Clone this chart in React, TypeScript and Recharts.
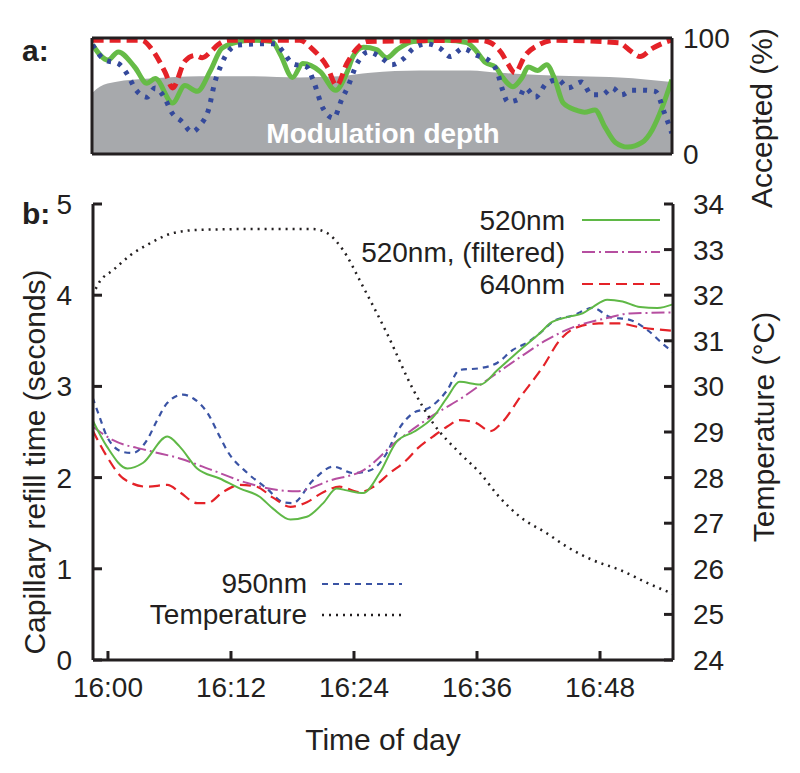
import React from "react";
import { Area, ComposedChart, Line, LineChart, XAxis, YAxis } from "recharts";

// minutes after 16:00
const timeTicks = [0, 12, 24, 36, 48];
const refillTicks = [0, 1, 2, 3, 4, 5];
const tempTicks = [24, 25, 26, 27, 28, 29, 30, 31, 32, 33, 34];
const acceptedTicks = [0, 100];

// panel a: accepted (%)
const acc520Min = [-1.5, 0, 1.0, 2.6, 3.8, 4.6, 6.3, 7.5, 8.7, 10.0, 11.1, 12.4, 14.1, 16.0, 16.8, 18.0, 19.0, 20.7, 22.2, 23.3, 23.9, 24.9, 26.2, 27.2, 28.2, 29.8, 32.9, 35.0, 35.8, 36.8, 37.8, 38.5, 39.5, 40.4, 41.0, 41.9, 42.8, 43.6, 44.4, 45.6, 46.5, 47.5, 48.5, 49.5, 50.7, 52.1, 53.1, 54.1, 55.0];
const acc520 = [94, 81, 88, 75, 61, 65, 44, 59, 54, 72, 91, 96, 98, 97, 86, 66, 78, 71, 55, 70, 84, 92, 90, 83, 90, 97, 98, 96, 90, 79, 75, 66, 58, 66, 75, 72, 77, 64, 44, 38, 36, 38, 23, 10, 6, 10, 21, 41, 64];

const acc640Min = [-1.5, 3.3, 4.3, 5.6, 6.3, 7.5, 8.5, 9.2, 10.0, 10.7, 11.7, 18.7, 20.0, 21.4, 22.3, 23.3, 24.3, 25.3, 36.3, 37.3, 38.4, 39.0, 39.7, 40.7, 42.0, 43.6, 49.8, 51.1, 51.9, 53.1, 54.6, 55.0];
const acc640 = [98, 98, 90, 70, 57, 80, 85, 83, 88, 94, 98, 98, 90, 75, 59, 78, 91, 97, 98, 96, 87, 78, 70, 85, 94, 98, 96, 88, 84, 91, 97, 98];

const acc950Min = [-1.5, -0.3, 1.0, 2.0, 2.6, 3.8, 4.6, 5.6, 6.2, 7.2, 8.2, 9.0, 9.8, 10.4, 11.1, 11.7, 12.7, 15.3, 16.3, 17.1, 18.0, 19.4, 20.0, 21.0, 22.0, 22.8, 23.4, 24.3, 25.4, 26.5, 27.7, 28.8, 29.8, 31.1, 32.4, 33.4, 34.6, 36.0, 37.1, 38.0, 38.5, 39.0, 40.0, 40.7, 41.7, 42.8, 43.9, 44.9, 46.2, 47.2, 48.2, 49.2, 50.1, 51.1, 52.1, 53.4, 54.3, 55.0];
const acc950 = [94, 81, 78, 67, 57, 49, 57, 47, 36, 28, 19, 25, 38, 61, 78, 88, 94, 95, 95, 88, 78, 75, 64, 39, 31, 47, 58, 78, 88, 84, 77, 82, 91, 95, 91, 84, 91, 85, 81, 70, 55, 45, 47, 57, 49, 61, 64, 57, 62, 51, 51, 57, 51, 55, 55, 54, 35, 18];

const modulationMin = [-1.5, -0.8, 0.7, 4.1, 8.9, 13.8, 18.7, 22.6, 25.6, 30.4, 35.3, 38.2, 42.1, 46.0, 49.9, 55.0];
const modulation = [53, 58, 62, 65, 67, 67, 66, 67, 70, 72, 72, 70, 68, 67, 66, 62];

// panel b: capillary refill time (s) and temperature (°C)
const r520Min = [-1.5, -0.1, 1.9, 3.4, 5.8, 7.0, 8.7, 10.9, 12.9, 14.8, 16.1, 17.8, 19.4, 21.0, 22.3, 23.3, 24.9, 26.5, 28.2, 29.8, 31.7, 33.1, 34.3, 36.3, 38.0, 40.2, 42.2, 43.1, 44.8, 46.3, 47.3, 48.7, 50.2, 51.9, 53.6, 55.1];
const r520 = [2.63, 2.34, 2.1, 2.16, 2.45, 2.34, 2.1, 1.99, 1.88, 1.79, 1.66, 1.54, 1.57, 1.72, 1.88, 1.86, 1.83, 2.05, 2.4, 2.5, 2.66, 2.88, 3.05, 3.02, 3.18, 3.4, 3.59, 3.69, 3.76, 3.8, 3.87, 3.95, 3.93, 3.87, 3.86, 3.9];

const rFiltMin = [-1.5, 0.5, 3.8, 7.0, 10.2, 13.6, 16.8, 18.4, 21.7, 24.9, 28.2, 31.4, 34.6, 37.0, 40.2, 42.8, 45.4, 48.7, 50.9, 55.1];
const rFilt = [2.56, 2.41, 2.3, 2.21, 2.08, 1.94, 1.86, 1.85, 1.97, 2.08, 2.4, 2.66, 2.88, 3.07, 3.32, 3.51, 3.65, 3.75, 3.8, 3.81];

const r640Min = [-1.5, -0.1, 1.5, 3.8, 5.8, 7.0, 8.7, 9.7, 11.2, 12.9, 14.5, 16.1, 17.8, 19.4, 21.0, 22.6, 24.6, 25.9, 27.5, 29.1, 30.2, 31.7, 33.1, 34.3, 35.9, 37.3, 38.4, 40.2, 42.4, 44.1, 45.8, 47.9, 49.9, 51.8, 55.1];
const r640 = [2.52, 2.23, 1.99, 1.9, 1.92, 1.84, 1.72, 1.72, 1.84, 1.92, 1.9, 1.78, 1.68, 1.73, 1.84, 1.9, 1.84, 1.9, 2.05, 2.19, 2.32, 2.45, 2.56, 2.63, 2.6, 2.51, 2.6, 2.88, 3.21, 3.51, 3.65, 3.69, 3.69, 3.65, 3.61];

const r950Min = [-1.5, -0.8, -0.1, 1.5, 2.4, 3.8, 4.8, 5.8, 7.3, 8.3, 9.7, 10.9, 11.6, 13.6, 15.5, 17.1, 18.0, 20.0, 22.0, 23.9, 25.6, 27.2, 28.2, 29.8, 31.4, 33.1, 34.3, 36.3, 38.0, 39.5, 40.9, 42.2, 43.4, 45.4, 47.3, 49.0, 50.9, 52.6, 54.5, 55.1];
const r950 = [2.88, 2.66, 2.45, 2.28, 2.27, 2.41, 2.63, 2.82, 2.91, 2.87, 2.71, 2.45, 2.3, 2.05, 1.88, 1.73, 1.72, 1.97, 2.12, 2.05, 2.08, 2.27, 2.5, 2.71, 2.77, 2.96, 3.18, 3.2, 3.26, 3.4, 3.48, 3.59, 3.71, 3.78, 3.86, 3.76, 3.73, 3.62, 3.43, 3.38];

const tempMin = [-1.5, -0.8, 0.5, 2.2, 3.8, 6.3, 8.7, 13.6, 20.0, 21.4, 22.9, 24.9, 27.2, 29.8, 31.7, 34.3, 36.3, 38.0, 40.2, 42.8, 44.8, 47.3, 50.0, 52.6, 55.1];
const temp = [32.0, 32.3, 32.55, 32.88, 33.1, 33.36, 33.43, 33.45, 33.45, 33.36, 33.0, 32.18, 31.17, 29.92, 29.2, 28.54, 28.1, 27.62, 27.14, 26.78, 26.48, 26.19, 25.97, 25.69, 25.45];

const zip = (ts: number[], vs: number[]) => ts.map((t, i) => ({ t, v: vs[i] }));
const fmtTime = (m: number) => `16:${String(m).padStart(2, "0")}`;

const FONT = '"Liberation Sans", Arial, Helvetica, sans-serif';
const INK = "#231f20";
const GREEN = "#5fb846";
const RED = "#e42228";
const BLUE = "#3a53a4";
const PURPLE = "#b64ea0";
const GREY = "#a7a9ac";

const frame = { stroke: INK, strokeWidth: 3 };
const tickText = { fontSize: 28, fill: INK, fontFamily: FONT };
const titleProps = { fill: INK, fontSize: 30, fontFamily: FONT };

const PanelA = () => (
  <ComposedChart width={800} height={215} margin={{ top: 37, right: 0, bottom: 60, left: 0 }}>
    <Area xAxisId="x" yAxisId="pct" data={zip(modulationMin, modulation)} dataKey="v" type="monotone"
      fill={GREY} fillOpacity={1} stroke="none" isAnimationActive={false} />
    <Line xAxisId="x" yAxisId="pct" data={zip(acc520Min, acc520)} dataKey="v" type="monotone"
      stroke="#66bb47" strokeWidth={5} dot={false} activeDot={false} isAnimationActive={false} />
    <Line xAxisId="x" yAxisId="pct" data={zip(acc950Min, acc950)} dataKey="v" type="monotone"
      stroke="#34499b" strokeWidth={5} strokeDasharray="4 7" dot={false} activeDot={false} isAnimationActive={false} />
    <Line xAxisId="x" yAxisId="pct" data={zip(acc640Min, acc640)} dataKey="v" type="monotone"
      stroke={RED} strokeWidth={5} strokeDasharray="11 6" dot={false} activeDot={false} isAnimationActive={false} />
    <XAxis xAxisId="x" dataKey="t" type="number" domain={[-1.56, 55.02]} allowDataOverflow
      ticks={timeTicks} height={1} tick={false} tickSize={-1} tickLine={{ stroke: "none" }} axisLine={frame} />
    <XAxis xAxisId="top" orientation="top" type="number" domain={[-1.56, 55.02]} allowDataOverflow
      ticks={timeTicks} height={1} tick={false} tickSize={-1} tickLine={{ stroke: "none" }} axisLine={frame} />
    <YAxis yAxisId="left" width={92} domain={[0, 100]} ticks={acceptedTicks} tick={false} tickLine={false} axisLine={frame} />
    <YAxis yAxisId="pct" orientation="right" width={128} domain={[0, 100]} ticks={acceptedTicks}
      tickLine={false} tickSize={0} tickMargin={11} tick={tickText} axisLine={frame}
      label={{ value: "Accepted (%)", angle: -90, position: "center", dx: 25, dy: 22, ...titleProps }} />
  </ComposedChart>
);

const PanelB = () => (
  <LineChart width={800} height={773} margin={{ top: 204, right: 0, bottom: 0, left: 0 }}>
    <XAxis xAxisId="x" dataKey="t" type="number" domain={[-1.46, 55.12]} allowDataOverflow
      ticks={timeTicks} tickFormatter={fmtTime} height={113} tickSize={-9} tickMargin={26}
      tick={tickText} tickLine={frame} axisLine={frame}
      label={{ value: "Time of day", position: "insideBottom", offset: 23, ...titleProps }} />
    <XAxis xAxisId="top" orientation="top" type="number" domain={[-1.46, 55.12]} allowDataOverflow
      ticks={timeTicks} height={0} tick={false} tickSize={-9} tickLine={frame} axisLine={frame} />
    <YAxis yAxisId="crt" width={93} domain={[0, 5]} ticks={refillTicks} tickSize={-9} tickMargin={30}
      tick={tickText} tickLine={frame} axisLine={frame}
      label={{ value: "Capillary refill time (seconds)", angle: -90, position: "center", dx: -12, dy: 30, ...titleProps }} />
    <YAxis yAxisId="temp" orientation="right" width={127} domain={[24, 34]} ticks={tempTicks}
      tickSize={-9} tickMargin={29} tick={{ ...tickText, textAnchor: "start" }} tickLine={frame} axisLine={frame}
      label={{ value: "Temperature (°C)", angle: -90, position: "center", dx: 27, dy: -5, ...titleProps }} />
    <Line xAxisId="x" yAxisId="crt" data={zip(r950Min, r950)} dataKey="v" type="monotone"
      stroke={BLUE} strokeWidth={2.2} strokeDasharray="6 5" dot={false} activeDot={false} isAnimationActive={false} />
    <Line xAxisId="x" yAxisId="crt" data={zip(r640Min, r640)} dataKey="v" type="monotone"
      stroke={RED} strokeWidth={2.2} strokeDasharray="11 6" dot={false} activeDot={false} isAnimationActive={false} />
    <Line xAxisId="x" yAxisId="crt" data={zip(rFiltMin, rFilt)} dataKey="v" type="monotone"
      stroke={PURPLE} strokeWidth={2} strokeDasharray="13 4 2 4" dot={false} activeDot={false} isAnimationActive={false} />
    <Line xAxisId="x" yAxisId="crt" data={zip(r520Min, r520)} dataKey="v" type="monotone"
      stroke={GREEN} strokeWidth={2} dot={false} activeDot={false} isAnimationActive={false} />
    <Line xAxisId="x" yAxisId="temp" data={zip(tempMin, temp)} dataKey="v" type="monotone"
      stroke={INK} strokeWidth={2.5} strokeDasharray="2 5" dot={false} activeDot={false} isAnimationActive={false} />
  </LineChart>
);

const legendTop = [
  { name: "520nm", stroke: GREEN, dash: undefined, width: 2 },
  { name: "520nm, (filtered)", stroke: PURPLE, dash: "13 4 2 4", width: 2 },
  { name: "640nm", stroke: RED, dash: "11 6", width: 2.2 },
];
const legendBottom = [
  { name: "950nm", stroke: BLUE, dash: "6 5", width: 2.2 },
  { name: "Temperature", stroke: INK, dash: "2 5", width: 2.5 },
];

const Overlay = () => (
  <svg width={800} height={773} style={{ position: "absolute", left: 0, top: 0, pointerEvents: "none" }}
    fontFamily={FONT}>
    <text x={22} y={61} fontSize={30} fontWeight="bold" fill={INK}>a:</text>
    <text x={22} y={224} fontSize={30} fontWeight="bold" fill={INK}>b:</text>
    <text x={383} y={143} fontSize={28} fontWeight="bold" fill="#ffffff" textAnchor="middle">Modulation depth</text>
    {legendTop.map((s, i) => (
      <g key={s.name}>
        <text x={565} y={230 + i * 32} fontSize={28} fill={INK} textAnchor="end">{s.name}</text>
        <line x1={582} x2={660} y1={220 + i * 32} y2={220 + i * 32} stroke={s.stroke}
          strokeWidth={s.width} strokeDasharray={s.dash} />
      </g>
    ))}
    {legendBottom.map((s, i) => (
      <g key={s.name}>
        <text x={307} y={593 + i * 31} fontSize={28} fill={INK} textAnchor="end">{s.name}</text>
        <line x1={322} x2={402} y1={584 + i * 31} y2={584 + i * 31} stroke={s.stroke}
          strokeWidth={s.width} strokeDasharray={s.dash} />
      </g>
    ))}
  </svg>
);

export default function App() {
  return (
    <div style={{ position: "absolute", left: 0, top: 0, width: 800, height: 773, background: "#fff", fontFamily: FONT }}>
      <div style={{ position: "absolute", left: 0, top: 0 }}>
        <PanelB />
      </div>
      <div style={{ position: "absolute", left: 0, top: 0 }}>
        <PanelA />
      </div>
      <Overlay />
    </div>
  );
}
